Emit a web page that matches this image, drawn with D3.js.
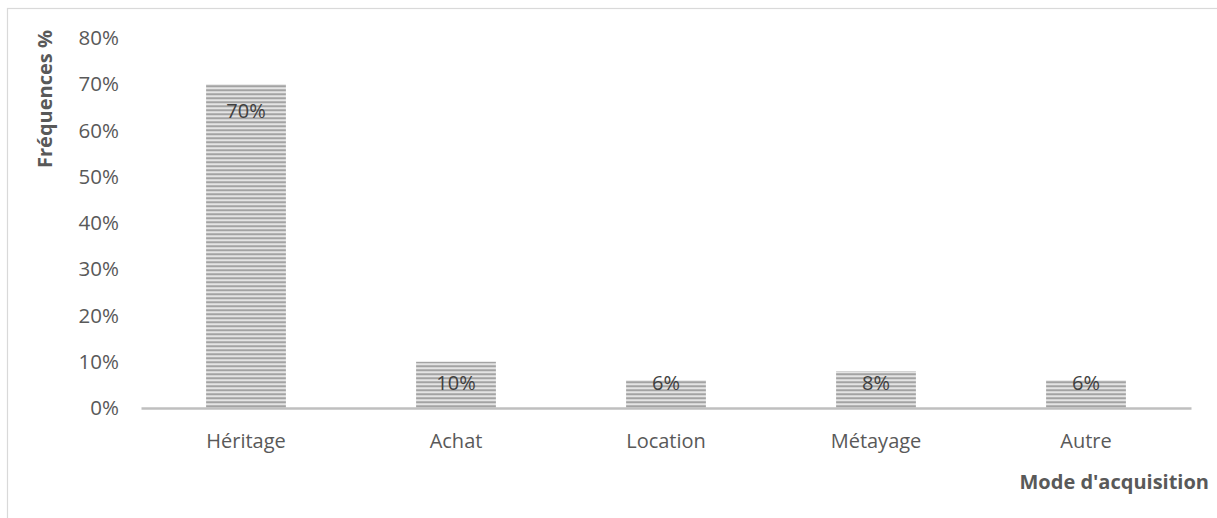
<!DOCTYPE html>
<html>
<head>
<meta charset="utf-8">
<script src="https://cdn.jsdelivr.net/npm/d3@7/dist/d3.min.js"></script>
<style>
  html, body { margin: 0; padding: 0; background: #fff; }
  svg { display: block; }
  text { font-family: "Open Sans", "Noto Sans", sans-serif; }
</style>
</head>
<body>
<svg id="chart" width="1217" height="518"></svg>
<script>
// Mode d'acquisition des terres — fréquences (%)
const categories = ["Héritage", "Achat", "Location", "Métayage", "Autre"];
const values = [70, 10, 6, 8, 6];
const yTicks = [0, 10, 20, 30, 40, 50, 60, 70, 80];
const yTitle = "Fréquences %";
const xTitle = "Mode d'acquisition";

const W = 1217, H = 518;
const plot = { left: 141, right: 1191, top: 38, bottom: 408 };

const svg = d3.select("#chart");

// Horizontal hatch fill for the bars
const defs = svg.append("defs");
const pat = defs.append("pattern")
  .attr("id", "hatch")
  .attr("patternUnits", "userSpaceOnUse")
  .attr("width", 8).attr("height", 4);
const rows = ["#e4e4e4", "#b4b4b4", "#a3a3a3", "#d4d4d4"];
rows.forEach((c, i) => pat.append("rect")
  .attr("x", 0).attr("y", i).attr("width", 8).attr("height", 1).attr("fill", c));

// Chart area frame
svg.append("rect")
  .attr("x", 7.5).attr("y", 8.5)
  .attr("width", W).attr("height", H)
  .attr("fill", "none").attr("stroke", "#d9d9d9").attr("stroke-width", 1.2);

const x = d3.scaleBand()
  .domain(categories)
  .range([plot.left, plot.right])
  .paddingInner(0.62).paddingOuter(0.31);

const y = d3.scaleLinear()
  .domain([0, 80])
  .range([plot.bottom, plot.top]);

// Y axis labels (no line, no ticks)
const yAxis = svg.append("g")
  .attr("transform", `translate(${plot.left - 22},0)`)
  .call(d3.axisLeft(y).tickValues(yTicks).tickSize(0).tickPadding(0).tickFormat(d => d + "%"));
yAxis.select(".domain").remove();
yAxis.selectAll("text")
  .attr("fill", "#595959")
  .style("font-size", "20.5px")
  .style("font-family", "'Open Sans', sans-serif");

// Bars
svg.append("g").selectAll("rect")
  .data(values)
  .join("rect")
  .attr("x", (d, i) => x(categories[i]))
  .attr("y", d => y(d))
  .attr("width", x.bandwidth())
  .attr("height", d => y(0) - y(d))
  .attr("fill", "url(#hatch)");

// Category axis
const xAxis = svg.append("g")
  .attr("transform", `translate(0,${plot.bottom})`)
  .call(d3.axisBottom(x).tickSize(0).tickPadding(26));
xAxis.select(".domain")
  .attr("stroke", "#bfbfbf").attr("stroke-width", 2.5);
xAxis.selectAll("text")
  .attr("fill", "#595959")
  .style("font-size", "20px")
  .style("font-family", "'Open Sans', sans-serif");

// Data labels inside the bar top, kept above the baseline for short bars
svg.append("g").selectAll("text")
  .data(values)
  .join("text")
  .attr("x", (d, i) => x(categories[i]) + x.bandwidth() / 2)
  .attr("y", d => Math.min(y(d) + 34, y(0) - 18))
  .attr("text-anchor", "middle")
  .attr("fill", "#404040")
  .style("font-size", "20px")
  .text(d => d + "%");

// Axis titles
svg.append("text")
  .attr("transform", `translate(52,${(plot.top + 160) / 2}) rotate(-90)`)
  .attr("text-anchor", "middle")
  .attr("fill", "#595959")
  .style("font-size", "20px")
  .style("font-weight", "bold")
  .text(yTitle);

svg.append("text")
  .attr("x", 1209)
  .attr("y", 489)
  .attr("text-anchor", "end")
  .attr("fill", "#595959")
  .style("font-size", "20px")
  .style("font-weight", "bold")
  .text(xTitle);
</script>
</body>
</html>
